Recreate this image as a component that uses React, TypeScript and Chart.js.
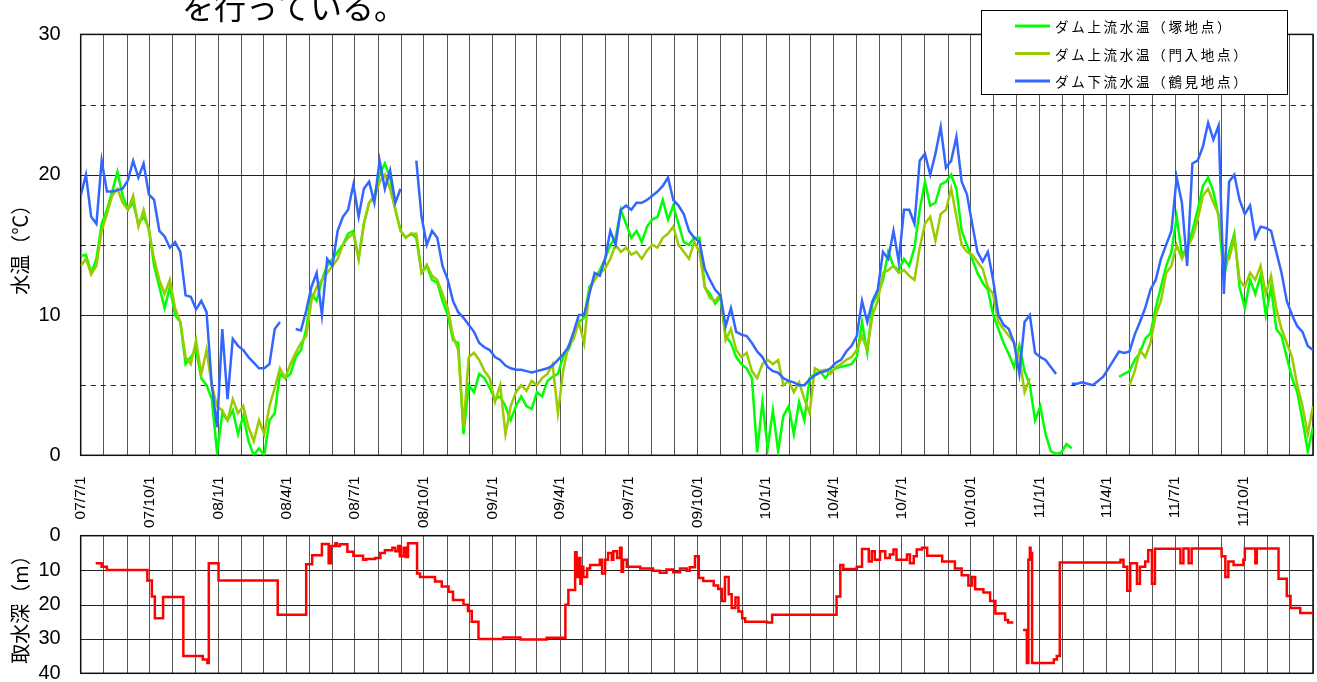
import React, { useEffect, useRef } from "react";
import { Chart, registerables } from "chart.js";

Chart.register(...registerables);

// ---------- data ----------
const START_UTC = Date.UTC(2007, 6, 1); // 07/7/1
const AXIS_END = "12/1/1";
const STEP_DAYS = 7; // temperature readings, one per week from 07/7/1

const headingText = "を行っている。";
const tempTitle = "水温（℃）";
const depthTitle = "取水深（m）";

const xTickLabels = [
  "07/7/1", "07/10/1", "08/1/1", "08/4/1", "08/7/1", "08/10/1",
  "09/1/1", "09/4/1", "09/7/1", "09/10/1", "10/1/1", "10/4/1",
  "10/7/1", "10/10/1", "11/1/1", "11/4/1", "11/7/1", "11/10/1",
];
const tempTicks = [0, 10, 20, 30];
const depthTicks = [0, 10, 20, 30, 40];

const seriesNames = ["ダム上流水温（塚地点）", "ダム上流水温（門入地点）", "ダム下流水温（鶴見地点）"];

// ダム上流水温（塚地点）
const tsukaTemp = [
  14.2, 14.3, 13.0, 14.0, 16.5, 17.5, 18.8, 20.2, 18.5, 17.5,
  18.0, 16.5, 17.0, 16.2, 13.5, 12.0, 10.5, 12.0, 10.0, 9.5,
  6.5, 7.0, 7.5, 5.5, 5.0, 4.0, 0.2, 3.0, 2.5, 3.2,
  1.5, 2.8, 1.0, 0.0, 0.5, 0.0, 2.5, 3.0, 5.8, 5.5,
  5.8, 7.0, 7.5, 9.0, 11.5, 11.0, 12.5, 13.5, 14.0, 14.5,
  15.0, 15.8, 16.0, 14.0, 16.5, 18.0, 18.5, 20.0, 20.8, 19.8,
  17.5, 16.0, 15.5, 15.8, 15.5, 13.0, 13.5, 12.5, 12.3, 11.0,
  10.0, 8.2, 8.0, 1.5, 5.0, 4.5, 5.8, 5.5, 4.8, 4.0,
  4.2, 3.5, 2.5, 3.5, 4.2, 3.5, 3.3, 4.5, 4.2, 5.3,
  5.6, 5.8, 7.0, 7.5, 8.5, 9.5, 9.8, 12.0, 12.5, 13.2,
  14.0, 15.0, 15.5, 17.5, 16.5, 15.5, 16.0, 15.2, 16.3, 16.8,
  17.0, 18.2, 16.8, 17.8, 16.5, 15.2, 15.0, 15.5, 15.5, 12.0,
  11.5, 10.8, 11.3, 8.5, 8.0, 7.0, 6.5, 6.2, 5.5, 0.2,
  3.8, 0.5, 3.2, 0.3, 2.8, 3.5, 1.5, 3.8, 2.5, 5.5,
  5.8, 6.0, 5.5, 6.0, 6.2, 6.3, 6.4, 6.5, 7.0, 9.5,
  7.3, 10.8, 11.5, 12.5, 14.5, 13.5, 13.2, 14.0, 13.5, 14.8,
  17.5, 19.5, 17.8, 18.0, 19.3, 19.5, 20.0, 19.0, 16.0, 15.0,
  14.0, 13.0, 12.3, 11.8, 10.0, 9.0, 8.0, 7.2, 6.3, 7.8,
  6.0, 5.0, 2.5, 3.5, 1.5, 0.3, 0.1, 0.2, 0.8, 0.5,
  null, null, null, null, null, null, null, null, 5.6, 5.8,
  6.0, 6.8, 7.3, 8.3, 8.7, 10.5, 12.0, 13.5, 14.5, 17.0,
  14.3, 14.8, 16.0, 17.5, 19.2, 19.8, 18.8, 17.0, 12.7, 14.5,
  15.8, 12.0, 10.5, 12.5, 11.5, 12.8, 10.0, 12.0, 9.0, 8.5,
  7.0, 5.5, 4.5, 2.5, 0.3, 2.0,
];

// ダム上流水温（門入地点）
const monnyuTemp = [
  13.5, 14.0, 12.9, 13.5, 16.0, 17.2, 18.5, 19.0, 18.0, 17.5,
  18.5, 16.3, 17.5, 16.0, 14.0, 12.5, 11.5, 12.5, 10.5, 9.5,
  7.0, 6.5, 8.2, 5.8, 7.5, 5.0, 3.5, 3.2, 2.5, 4.0,
  3.0, 3.5, 2.0, 1.0, 2.5, 1.5, 3.5, 4.8, 6.2, 5.5,
  6.5, 7.3, 8.0, 8.5, 11.0, 12.0, 12.5, 13.0, 13.5, 14.0,
  15.0, 15.5, 15.8, 14.0, 16.5, 18.0, 18.3, 19.5, 20.0, 19.0,
  17.5, 16.0, 15.5, 15.8, 15.8, 13.0, 13.6, 12.8, 12.5, 11.5,
  10.5, 8.5, 7.5, 2.0, 7.0, 7.3, 6.8, 6.0, 5.5, 3.8,
  5.0, 1.5, 3.5, 4.5, 5.0, 4.6, 5.3, 5.0, 5.5, 5.8,
  6.5, 3.0, 6.0, 7.8, 8.3, 9.5, 8.0, 11.8, 12.5, 13.0,
  13.3, 14.0, 15.0, 14.5, 14.8, 14.3, 14.5, 14.0, 14.6, 15.0,
  14.8, 15.5, 15.8, 16.3, 15.0, 14.5, 14.0, 15.2, 14.5, 12.0,
  11.2, 11.0, 11.5, 8.2, 9.0, 7.5, 7.0, 7.3, 6.0, 5.5,
  6.5, 6.8, 6.5, 6.8, 5.0, 5.3, 4.5, 5.2, 4.0, 3.0,
  6.2, 6.0, 6.1, 5.8, 6.3, 6.5, 6.8, 7.0, 7.5, 8.5,
  7.5, 10.0, 11.0, 13.0, 13.2, 13.5, 13.0, 13.2, 12.8, 12.5,
  14.8, 16.5, 17.0, 15.3, 17.2, 17.5, 19.0, 17.0, 15.0, 14.5,
  14.3, 13.8, 13.3, 12.0, 11.5, 9.5, 9.0, 8.5, 8.0, 7.0,
  4.5, 5.5, null, null, null, null, null, null, null, null,
  null, null, null, null, null, null, null, null, null, null,
  5.0, 6.0, 7.5, 7.0, 8.0, 10.0, 11.0, 13.0, 13.5, 15.0,
  14.0, 14.8, 15.5, 16.8, 18.5, 19.0, 18.0, 17.2, 14.0, 14.0,
  15.5, 12.5, 12.0, 13.0, 12.5, 13.5, 11.5, 12.8, 10.5, 9.0,
  8.0, 7.0, 5.0, 3.5, 1.5, 3.5,
];

// ダム下流水温（鶴見地点）
const tsurumiTemp = [
  18.5, 20.0, 17.0, 16.5, 21.0, 18.8, 18.8, 18.9, 19.0, 19.6,
  21.0, 19.8, 20.8, 18.6, 18.2, 16.0, 15.6, 14.8, 15.2, 14.5,
  11.4, 11.3, 10.4, 11.0, 10.2, 5.0, 2.0, 9.0, 4.0, 8.3,
  7.8, 7.5, 7.0, 6.6, 6.2, 6.2, 6.5, 9.0, 9.5, null,
  null, 9.0, 8.9, 10.3, 12.0, 13.0, 10.0, 14.0, 13.5, 16.0,
  17.0, 17.5, 19.3, 17.0, 19.0, 19.5, 18.0, 21.0, 19.0, 20.3,
  18.0, 19.0, null, null, 21.0, 17.0, 15.0, 16.0, 15.5, 13.5,
  12.5, 11.0, 10.2, 9.8, 9.3, 8.8, 8.0, 7.7, 7.5, 7.0,
  6.8, 6.4, 6.2, 6.1, 6.1, 6.0, 5.9, 6.0, 6.1, 6.2,
  6.4, 6.8, 7.2, 7.7, 8.8, 10.0, 10.0, 11.5, 13.0, 12.8,
  14.0, 16.0, 15.0, 17.5, 17.8, 17.5, 18.0, 18.0, 18.2, 18.5,
  18.8, 19.2, 19.8, 18.2, 17.8, 17.2, 16.0, 15.5, 15.2, 13.3,
  12.5, 11.8, 11.4, 9.2, 10.5, 8.8, 8.6, 8.5, 8.0, 7.4,
  7.0, 6.3, 6.0, 5.9, 5.5, 5.3, 5.2, 5.0, 5.0, 5.4,
  5.7, 5.9, 6.0, 6.2, 6.6, 6.8, 7.4, 7.8, 8.5, 11.0,
  9.5, 11.0, 11.8, 14.5, 14.0, 16.0, 13.8, 17.5, 17.5, 16.5,
  21.0, 21.5, 20.0, 21.5, 23.4, 20.5, 21.0, 22.7, 19.5, 18.6,
  16.5, 14.5, 13.8, 14.5, 12.5, 10.0, 9.3, 9.0, 8.0, 5.8,
  9.5, 10.0, 7.3, 7.0, 6.8, 6.3, 5.8, null, null, 5.1,
  5.1, 5.2, 5.1, 5.0, 5.3, 5.6, 6.2, 6.8, 7.4, 7.3,
  7.4, 8.6, 9.5, 10.5, 11.8, 12.5, 14.0, 15.0, 16.0, 19.8,
  18.0, 13.5, 20.8, 21.0, 22.0, 23.7, 22.5, 23.5, 11.5, 19.5,
  20.0, 18.2, 17.2, 17.8, 15.5, 16.3, 16.2, 16.0, 14.5, 13.0,
  11.0, 10.0, 9.2, 8.8, 7.8, 7.5,
];

// 取水深: dates where the intake depth changes, and the depth from that date on
const depthDates = [
  "07/7/21", "07/7/29", "07/8/5", "07/9/28", "07/10/4", "07/10/8", "07/10/19", "07/11/15", "07/12/11", "07/12/17", "07/12/19",
  "08/1/1", "08/3/20", "08/4/27", "08/5/5", "08/5/18", "08/5/27", "08/5/30", "08/6/5", "08/6/7", "08/6/11", "08/6/21", "08/6/29",
  "08/7/12", "08/7/16", "08/7/28", "08/8/4", "08/8/10", "08/8/20", "08/8/24", "08/8/28", "08/8/30", "08/9/4", "08/9/7", "08/9/10",
  "08/9/22", "08/9/26", "08/10/16", "08/10/25", "08/11/3", "08/11/9", "08/11/23", "08/11/29", "08/12/4", "08/12/13",
  "09/1/15", "09/2/7", "09/3/14", "09/4/8", "09/4/12", "09/4/21", "09/4/23", "09/4/25", "09/4/28", "09/4/30", "09/5/2", "09/5/7",
  "09/5/11", "09/5/24", "09/5/27", "09/5/31", "09/6/4", "09/6/9", "09/6/11", "09/6/16", "09/6/20", "09/6/22", "09/6/24", "09/6/29",
  "09/7/17", "09/8/3", "09/8/12", "09/8/21", "09/8/30", "09/9/8", "09/9/17", "09/9/21", "09/9/28", "09/10/3", "09/10/9", "09/10/23",
  "09/10/29", "09/11/3", "09/11/7", "09/11/12", "09/11/16", "09/11/21", "09/11/25", "09/11/30", "09/12/4",
  "10/1/2", "10/1/9", "10/4/5", "10/4/10", "10/4/14", "10/5/2", "10/5/9", "10/5/18", "10/5/22", "10/5/26", "10/6/2", "10/6/9",
  "10/6/15", "10/6/20", "10/6/24", "10/7/8", "10/7/12", "10/7/17", "10/7/21", "10/7/28", "10/8/4", "10/8/24", "10/9/10", "10/9/19",
  "10/9/28", "10/10/3", "10/10/7", "10/10/18", "10/10/27", "10/11/3", "10/11/16", "10/11/20", "10/11/27", "10/12/3", "10/12/10",
  "10/12/15", "10/12/17", "10/12/19", "10/12/20", "10/12/22",
  "11/1/20", "11/1/24", "11/1/28", "11/4/19", "11/4/23", "11/4/28", "11/5/2", "11/5/11", "11/5/15", "11/5/22", "11/5/26", "11/5/31",
  "11/6/4", "11/7/8", "11/7/12", "11/7/19", "11/7/23", "11/9/1", "11/9/6", "11/9/10", "11/9/17", "11/9/30", "11/10/2", "11/10/16",
  "11/10/18", "11/11/16", "11/11/27", "11/12/2", "11/12/15", "12/1/1",
];
const depthValues = [
  8, 9, 10, 13, 17.7, 24, 17.8, 35, 36, 37, 8,
  13, 23, 8.3, 5.7, 2.4, 8, 3, 2.2, 3, 2.5, 4.7, 5.8,
  7, 6.8, 6.5, 5, 4.2, 3.5, 4.5, 3, 6, 3.5, 6.2, 2.2,
  11, 12, 13.3, 14.8, 16.3, 18.7, 20.1, 21.9, 25, 30,
  29.6, 30.2, 29.7, 20.1, 15.8, 4.8, 12, 6.5, 14, 9, 12, 9.5,
  8.5, 7, 11, 7, 5, 7, 4.5, 6.5, 3.5, 10.5, 7, 9,
  9.5, 10.2, 10.8, 9.8, 10.6, 9.5, 10.2, 9.2, 6, 12.3, 13.2, 14.5,
  15.5, 19, 12, 17, 21, 18, 22, 24, 25,
  25.2, 23, 17.7, 8.5, 9.7, 9, 3.9, 7.5, 4.5, 7, 4.5, 6.5,
  5.5, 4, 7, 5.5, 8, 6, 4, 3.5, 5.8, 7.5, 9.5, 11.5,
  14.5, 12, 15.6, 16.5, 19, 22.6, 24.5, 25.2, 25.2, null, 27.4,
  37, 7, 3.5, 5, 37,
  36, 35, 7.8, 7, 9, 16, 8, 14, 9, 7.5, 4.2, 14,
  3.8, 8, 3.7, 8, 3.7, 6, 12, 7.5, 8.5, 7, 3.7, 8,
  3.7, 12.5, 17.5, 21, 22.5, 22.5,
];

// ---------- helpers ----------
function dayOf(s: string): number {
  const [yy, m, d] = s.split("/").map(Number);
  return Math.round((Date.UTC(2000 + yy, m - 1, d) - START_UTC) / 86400000);
}
const END_DAY = dayOf(AXIS_END);

const monthDays: number[] = [];
for (let k = 0; ; k++) {
  const d = Math.round((Date.UTC(2007, 6 + k, 1) - START_UTC) / 86400000);
  if (d > END_DAY) break;
  monthDays.push(d);
}
const labelByDay = new Map(xTickLabels.map((s) => [dayOf(s), s] as [number, string]));

const weekly = (vals: (number | null)[]) => vals.map((v, i) => ({ x: i * STEP_DAYS, y: v }));

const GRID = "#555";
const LINE = "#222";

const hGridPlugin = {
  id: "hgrid",
  beforeDatasetsDraw(chart: any, _args: any, opts: any) {
    const { ctx, chartArea: a } = chart;
    const y = chart.scales.y;
    ctx.save();
    ctx.strokeStyle = LINE;
    ctx.lineWidth = 1;
    for (const l of opts.lines || []) {
      const py = Math.round(y.getPixelForValue(l.v)) + 0.5;
      ctx.setLineDash(l.dashed ? [5, 5] : []);
      ctx.beginPath();
      ctx.moveTo(a.left, py);
      ctx.lineTo(a.right, py);
      ctx.stroke();
    }
    ctx.setLineDash([]);
    ctx.strokeStyle = "#111";
    ctx.lineWidth = 1.5;
    ctx.strokeRect(a.left, a.top, a.right - a.left, a.bottom - a.top);
    ctx.restore();
  },
};

const seriesColors = ["#00FF00", "#99CC00", "#3366FF"];

const decorPlugin = {
  id: "decor",
  afterDraw(chart: any) {
    const ctx = chart.ctx;
    ctx.save();
    ctx.fillStyle = "#000";
    ctx.textAlign = "left";
    ctx.textBaseline = "alphabetic";
    ctx.font = '32px "Noto Sans CJK JP", sans-serif';
    ctx.fillText(headingText, 182, 19);

    ctx.fillStyle = "#fff";
    ctx.fillRect(981, 10, 307, 84);
    ctx.strokeStyle = "#000";
    ctx.lineWidth = 1;
    ctx.strokeRect(981.5, 10.5, 306, 84);
    const rows = [26, 53.5, 81];
    ctx.font = '13.5px "Noto Sans CJK JP", sans-serif';
    ctx.letterSpacing = "2.7px";
    ctx.textBaseline = "middle";
    seriesNames.forEach((name, k) => {
      ctx.strokeStyle = seriesColors[k];
      ctx.lineWidth = 3;
      ctx.beginPath();
      ctx.moveTo(1015, rows[k]);
      ctx.lineTo(1050, rows[k]);
      ctx.stroke();
      ctx.fillStyle = "#000";
      ctx.fillText(name, 1055, rows[k] + 1);
    });
    ctx.restore();
  },
};

const tickFont = { family: '"Liberation Sans", Arial, sans-serif', size: 20 };
const titleFont = { family: '"Noto Sans CJK JP", sans-serif', size: 20 };

function xScale(showLabels: boolean, height: number) {
  return {
    type: "linear",
    min: 0,
    max: END_DAY,
    afterBuildTicks: (s: any) => {
      s.ticks = monthDays.map((v) => ({ value: v }));
    },
    afterFit: (s: any) => {
      s.height = height;
      s.paddingLeft = 0;
      s.paddingRight = 0;
    },
    grid: { color: GRID, lineWidth: 1, drawTicks: false },
    border: { display: false },
    ticks: {
      display: showLabels,
      autoSkip: false,
      minRotation: 90,
      maxRotation: 90,
      padding: 21,
      color: "#000",
      font: { family: '"Liberation Sans", Arial, sans-serif', size: 15.5 },
      callback: (v: any) => labelByDay.get(Number(v)) ?? "",
    },
  };
}

function yScale(ticks: number[], max: number, title: string, reverse: boolean) {
  return {
    type: "linear",
    min: 0,
    max,
    reverse,
    afterBuildTicks: (s: any) => {
      s.ticks = ticks.map((v) => ({ value: v }));
    },
    afterFit: (s: any) => {
      s.width = 80.7;
      s.paddingTop = 0;
      s.paddingBottom = 0;
    },
    grid: { display: false },
    border: { display: false },
    ticks: { padding: 12, color: "#000", font: tickFont },
    title: { display: true, text: title, color: "#000", font: titleFont, padding: { top: 8, bottom: 0 } },
  };
}

export default function App() {
  const topRef = useRef<HTMLCanvasElement>(null);
  const botRef = useRef<HTMLCanvasElement>(null);

  useEffect(() => {
    const lineDs = (label: string, data: any[], color: string) => ({
      label,
      data,
      borderColor: color,
      backgroundColor: color,
      borderWidth: 2.5,
      pointRadius: 0,
      tension: 0,
      spanGaps: false,
      fill: false,
    });

    const top = new Chart(topRef.current as HTMLCanvasElement, {
      type: "line",
      data: {
        datasets: [
          lineDs(seriesNames[2], weekly(tsurumiTemp), seriesColors[2]),
          lineDs(seriesNames[1], weekly(monnyuTemp), seriesColors[1]),
          lineDs(seriesNames[0], weekly(tsukaTemp), seriesColors[0]),
        ],
      },
      options: {
        animation: false,
        responsive: false,
        maintainAspectRatio: false,
        events: [],
        layout: { padding: { left: 0, right: 4, top: 34.4, bottom: 0 } },
        plugins: {
          legend: { display: false },
          tooltip: { enabled: false },
          hgrid: {
            lines: [
              { v: 5, dashed: true },
              { v: 10, dashed: false },
              { v: 15, dashed: true },
              { v: 20, dashed: false },
              { v: 25, dashed: true },
            ],
          },
        },
        scales: {
          x: xScale(true, 76.7),
          y: yScale(tempTicks, 30, tempTitle, false),
        },
      } as any,
      plugins: [hGridPlugin, decorPlugin],
    });

    const bot = new Chart(botRef.current as HTMLCanvasElement, {
      type: "line",
      data: {
        datasets: [
          {
            label: depthTitle,
            data: depthDates.map((s, i) => ({ x: dayOf(s), y: depthValues[i] })),
            borderColor: "#FF0000",
            backgroundColor: "#FF0000",
            borderWidth: 2.5,
            pointRadius: 0,
            stepped: true,
            spanGaps: false,
            fill: false,
          },
        ],
      },
      options: {
        animation: false,
        responsive: false,
        maintainAspectRatio: false,
        events: [],
        layout: { padding: { left: 0, right: 4, top: 15.7, bottom: 8.7 } },
        plugins: {
          legend: { display: false },
          tooltip: { enabled: false },
          hgrid: {
            lines: [
              { v: 10, dashed: false },
              { v: 20, dashed: false },
              { v: 30, dashed: false },
            ],
          },
        },
        scales: {
          x: xScale(false, 0),
          y: yScale(depthTicks, 40, depthTitle, true),
        },
      } as any,
      plugins: [hGridPlugin],
    });

    return () => {
      top.destroy();
      bot.destroy();
    };
  }, []);

  return (
    <div
      style={{
        position: "absolute",
        left: 0,
        top: 0,
        width: 1317,
        height: 682,
        overflow: "hidden",
        background: "#fff",
      }}
    >
      <canvas ref={topRef} width={1317} height={532} style={{ position: "absolute", left: 0, top: 0 }} />
      <canvas ref={botRef} width={1317} height={162} style={{ position: "absolute", left: 0, top: 520 }} />
    </div>
  );
}
